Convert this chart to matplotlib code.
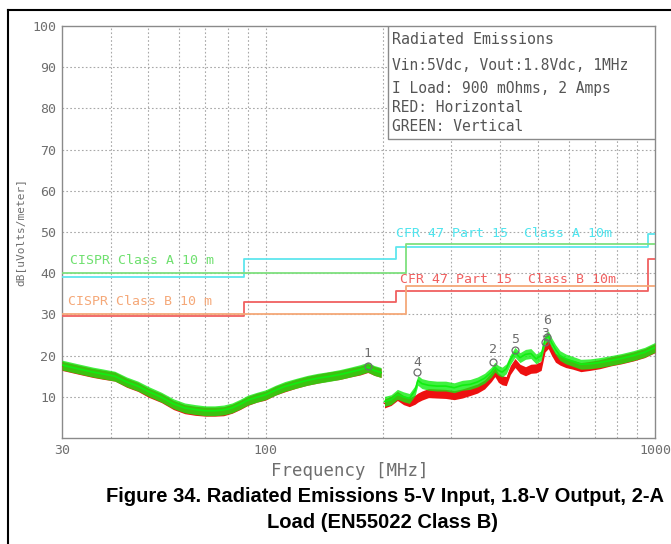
import numpy as np
import matplotlib.pyplot as plt
from matplotlib.lines import Line2D
from matplotlib.patches import Rectangle

# limit lines (MHz, dBuV/m)
cfr_a_f = [30, 88, 216, 960, 1000]
cfr_a_db = [39, 43.5, 46.4, 49.5, 49.5]
cfr_b_f = [30, 88, 216, 960, 1000]
cfr_b_db = [29.5, 33.1, 35.6, 43.5, 43.5]
cispr_a_f = [30, 230, 1000]
cispr_a_db = [40, 47, 47]
cispr_b_f = [30, 230, 1000]
cispr_b_db = [30, 37, 37]

# measured traces, band 1 (biconical) and band 2 (log periodic)
f_lo = [30, 33, 36, 38, 41, 44, 47, 50, 54, 58, 62, 66, 70, 74, 78, 82, 86, 90,
        95, 100, 106, 112, 120, 128, 136, 145, 155, 165, 175, 183, 190, 198]
green_lo = [17.7, 16.8, 16.0, 15.6, 15.0, 13.6, 12.6, 11.3, 9.9, 8.3, 7.3, 6.9, 6.6, 6.6,
            6.8, 7.3, 8.2, 9.2, 9.9, 10.5, 11.6, 12.5, 13.3, 14.0, 14.5, 14.9, 15.4,
            16.0, 16.6, 17.2, 16.4, 15.9]
red_lo = [17.5, 16.6, 15.8, 15.4, 14.9, 13.4, 12.4, 11.0, 9.7, 8.0, 7.0, 6.6, 6.4, 6.4,
          6.5, 7.1, 8.0, 9.0, 9.8, 10.3, 11.5, 12.3, 13.2, 13.9, 14.4, 14.9, 15.3,
          15.9, 16.4, 17.0, 16.3, 15.8]

f_hi = [202, 210, 218, 226, 234, 242, 246, 252, 262, 275, 290, 305, 320, 335, 350, 365,
        380, 388, 396, 405, 415, 425, 437, 450, 465, 480, 495, 510, 522, 532, 542, 555,
        570, 590, 615, 645, 680, 720, 770, 820, 880, 940, 1000]
green_hi = [8.9, 9.3, 10.6, 10.0, 9.6, 11.5, 14.0, 13.2, 12.8, 12.6, 12.6, 12.2, 12.8,
            13.0, 13.6, 14.5, 16.0, 17.2, 16.4, 16.0, 16.8, 19.0, 20.8, 19.5, 20.3, 20.5,
            19.2, 20.0, 24.0, 24.8, 23.2, 21.5, 20.0, 19.2, 18.6, 17.9, 18.0, 18.3, 18.8,
            19.3, 20.0, 20.8, 22.0]
red_hi = [8.4, 9.0, 10.2, 9.2, 8.7, 9.3, 9.8, 10.3, 10.9, 10.8, 10.7, 10.4, 10.8, 11.4,
          12.0, 13.0, 14.8, 16.0, 14.6, 14.0, 13.8, 16.5, 18.2, 16.8, 16.2, 16.8, 16.9,
          17.5, 22.0, 22.8, 21.2, 19.5, 18.8, 18.2, 17.8, 17.2, 17.5, 17.9, 18.6, 19.1,
          19.8, 20.6, 21.8]

# markers: label, freq, circle level, label level
mk_lab = ['1', '4', '2', '5', '3', '6']
mk_f = [183, 245, 384, 437, 522, 528]
mk_db = [17.5, 16.0, 18.4, 21.4, 23.3, 24.6]
mk_txt = [20.6, 18.4, 21.4, 23.8, 25.3, 28.6]

mono = 'DejaVu Sans Mono'
gray = '#6e6e6e'

fig = plt.figure(figsize=(6.71, 5.44), dpi=100)
ax = fig.add_axes([62 / 671, 1 - 438 / 544, 593 / 671, 412 / 544])
ax.set_xscale('log')
ax.set_xlim(30, 1000)
ax.set_ylim(0, 100)

# grid
xgrid = [40, 50, 60, 70, 80, 90, 100, 200, 300, 400, 500, 600, 700, 800, 900]
for g in xgrid:
    ax.axvline(g, color='#a8a8a8', lw=0.8, ls=(0, (1.5, 2)), zorder=1)
for g in range(10, 100, 10):
    ax.axhline(g, color='#a8a8a8', lw=0.8, ls=(0, (1.5, 2)), zorder=1)

ax.set_xticks([30, 100, 1000])
ax.set_xticklabels(['30', '100', '1000'])
ax.set_xticks([], minor=True)
ax.set_yticks(range(10, 101, 10))
ax.tick_params(length=0, labelsize=9.5, labelcolor=gray, pad=4)
for lab in ax.get_xticklabels() + ax.get_yticklabels():
    lab.set_family(mono)
for s in ax.spines.values():
    s.set_color('#8a8a8a')
    s.set_linewidth(1.0)

# limit lines
ax.step(cfr_a_f, cfr_a_db, where='post', color='#5ee6ee', lw=1.3, zorder=3)
ax.step(cispr_a_f, cispr_a_db, where='post', color='#7ee07e', lw=1.3, zorder=3)
ax.step(cfr_b_f, cfr_b_db, where='post', color='#f06060', lw=1.3, zorder=3)
ax.step(cispr_b_f, cispr_b_db, where='post', color='#f5a878', lw=1.3, zorder=3)

ax.text(31.5, 42.3, 'CISPR Class A 10 m', color='#6fe06f', family=mono, fontsize=9.5)
ax.text(31, 32.3, 'CISPR Class B 10 m', color='#f5a878', family=mono, fontsize=9.5)
ax.text(216, 48.8, 'CFR 47 Part 15  Class A 10m', color='#4fe4ee', family=mono, fontsize=9.5)
ax.text(222, 37.7, 'CFR 47 Part 15  Class B 10m', color='#f06060', family=mono, fontsize=9.5)

# traces
for f, r, g in [(f_lo, red_lo, green_lo), (f_hi, red_hi, green_hi)]:
    f = np.array(f)
    r = np.array(r)
    g = np.array(g)
    ax.fill_between(f, r - 1.1, r + 1.1, color='#ee1010', lw=0, zorder=4)
    ax.plot(f, r, color='#ee1010', lw=1.0, zorder=4)
    ax.fill_between(f, g - 1.2, g + 1.2, color='#10ee10', lw=0, alpha=0.8, zorder=5)
    ax.plot(f, g, color='#10ee10', lw=1.2, zorder=5)

# markers
for lab, f, d, t in zip(mk_lab, mk_f, mk_db, mk_txt):
    ax.plot(f, d, 'o', mfc='none', mec=gray, ms=5, mew=0.9, zorder=6)
    ax.text(f, t, lab, color=gray, family=mono, fontsize=9.5, ha='center', va='center', zorder=6)

# info box
ax.add_patch(Rectangle((388 / 671, 1 - 139 / 544), 267 / 671, 113 / 544,
                       transform=fig.transFigure, fc='white', ec='#8a8a8a', lw=1.0, zorder=7))
info = [('Radiated Emissions', 40, 10.8),
        ('Vin:5Vdc, Vout:1.8Vdc, 1MHz', 65, 10.5),
        ('I Load: 900 mOhms, 2 Amps', 88, 10.5),
        ('RED: Horizontal', 108, 10.5),
        ('GREEN: Vertical', 126, 10.5)]
for txt, y, sz in info:
    fig.text(392 / 671, 1 - y / 544, txt, color='#555555', family=mono, fontsize=sz,
             va='center', zorder=8)

ax.set_xlabel('Frequency [MHz]', family=mono, fontsize=12.5, color=gray)
ax.xaxis.set_label_coords(0.486, -0.058)
ax.set_ylabel('dB[uVolts/meter]', family=mono, fontsize=8, color=gray, labelpad=5)

# page frame
fig.add_artist(Line2D([8 / 671, 1], [1 - 10 / 544, 1 - 10 / 544], color='black', lw=1.5))
fig.add_artist(Line2D([8 / 671, 8 / 671], [0, 1 - 10 / 544], color='black', lw=1.5))

fig.text(0.574, 1 - 497 / 544, 'Figure 34. Radiated Emissions 5-V Input, 1.8-V Output, 2-A',
         ha='center', va='center', fontsize=14.5, fontweight='bold',
         family='Liberation Sans')
fig.text(0.570, 1 - 523 / 544, 'Load (EN55022 Class B)', ha='center', va='center',
         fontsize=14.5, fontweight='bold', family='Liberation Sans')

fig.savefig('out.png', dpi=100)
